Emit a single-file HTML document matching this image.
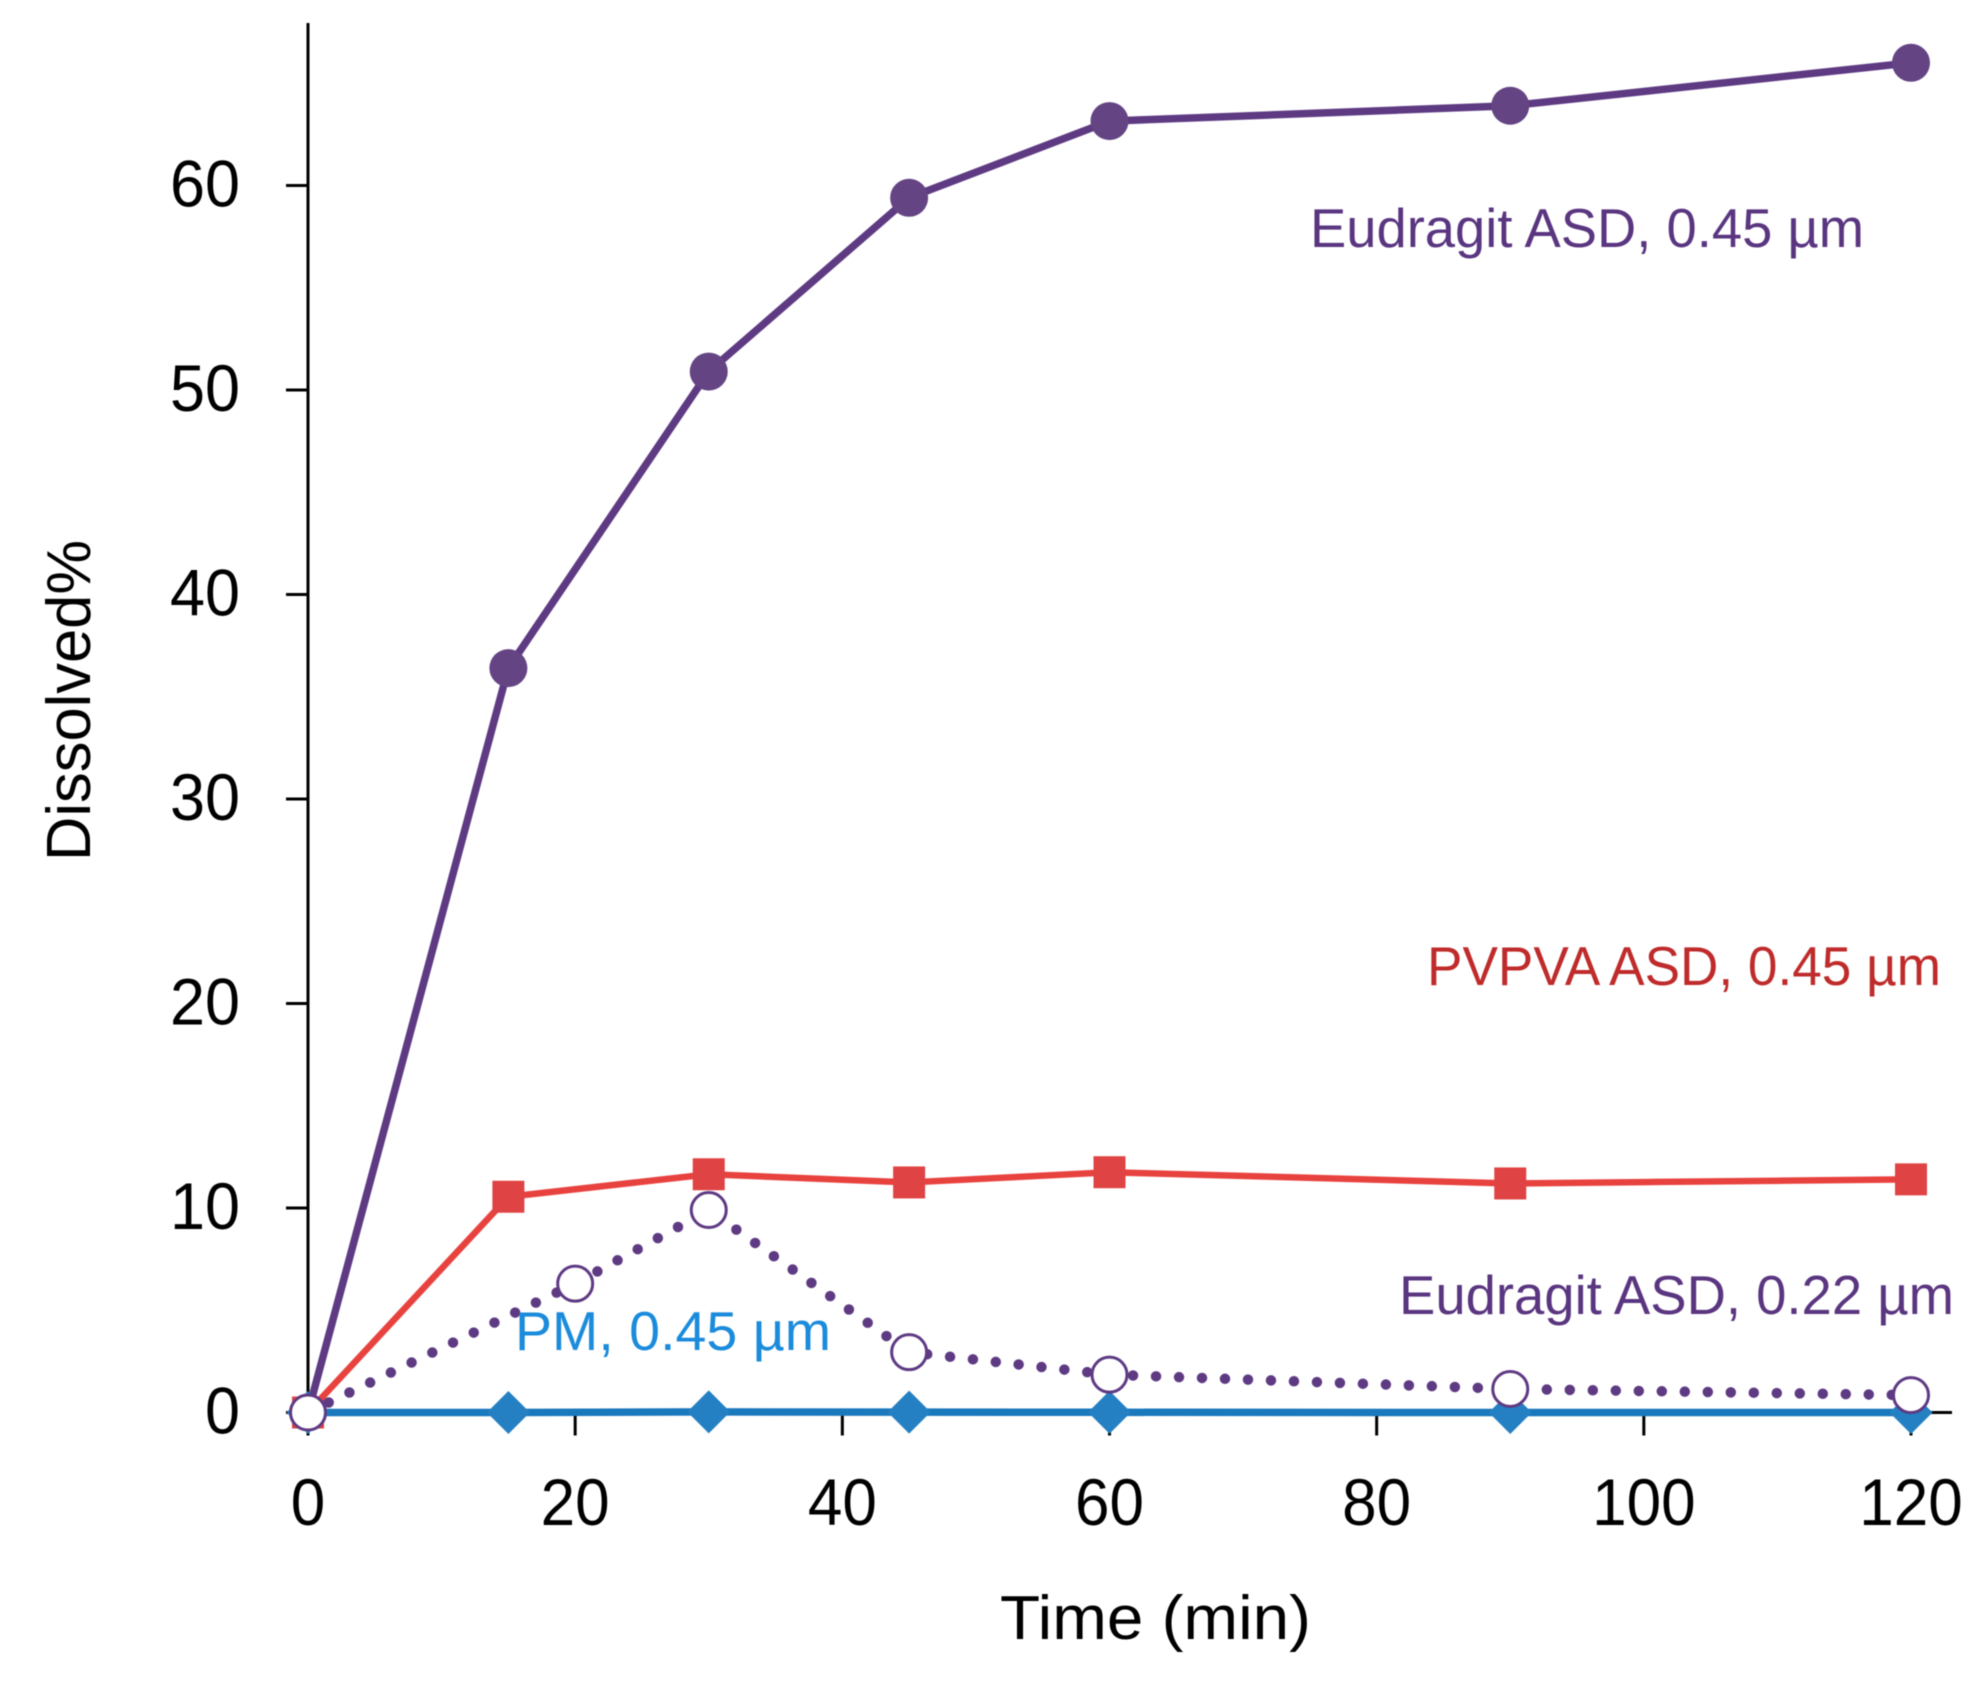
<!DOCTYPE html>
<html lang="en">
<head>
<meta charset="utf-8">
<title>Dissolved% over time</title>
<style>
html,body{margin:0;padding:0;background:#fff;}
#chart{display:block;width:1980px;height:1697px;filter:blur(0.6px);}
text{font-family:"Liberation Sans",sans-serif;}
</style>
</head>
<body>
<svg id="chart" xmlns="http://www.w3.org/2000/svg" width="1980" height="1697" viewBox="0 0 1980 1697">
  <g id="axes"></g>
  <g id="series"></g>
  <g id="labels">
    <text x="1310" y="247" font-size="55" fill="#5a3580" textLength="554" lengthAdjust="spacingAndGlyphs">Eudragit ASD, 0.45 µm</text>
    <text x="1427" y="985" font-size="55" fill="#bf2b2b" textLength="514" lengthAdjust="spacingAndGlyphs">PVPVA ASD, 0.45 µm</text>
    <text x="1399" y="1314" font-size="55" fill="#5a3580" textLength="555" lengthAdjust="spacingAndGlyphs">Eudragit ASD, 0.22 µm</text>
    <text x="515" y="1350" font-size="55" fill="#1b8bdb" textLength="316" lengthAdjust="spacingAndGlyphs">PM, 0.45 µm</text>
    <text x="1000" y="1639" font-size="62" fill="#000" textLength="311" lengthAdjust="spacingAndGlyphs">Time (min)</text>
    <text transform="translate(90 861) rotate(-90)" font-size="62" fill="#000" textLength="321" lengthAdjust="spacingAndGlyphs">Dissolved%</text>
  </g>
</svg>
<script>
const xTicks = [0, 20, 40, 60, 80, 100, 120];
const yTicks = [0, 10, 20, 30, 40, 50, 60];
const times = [0, 15, 30, 45, 60, 90, 120];
const eudragit045 = [0, 36.4, 50.9, 59.4, 63.15, 63.9, 66.0];
const pvpva045 = [0, 10.55, 11.65, 11.25, 11.75, 11.2, 11.4];
const pm045 = [0, 0.0, 0.03, 0.02, 0.01, 0.0, 0.0];
const eudragit022Times = [0, 20, 30, 45, 60, 90, 120];
const eudragit022 = [0, 6.3, 9.9, 2.95, 1.85, 1.15, 0.85];

const NS = 'http://www.w3.org/2000/svg';
function xScale(v) { return 308 + v * (1911 - 308) / 120; }
function yScale(v) { return 1412.5 - v * 20.45; }
function make(tag, attrs, parent) {
  const el = document.createElementNS(NS, tag);
  for (const k in attrs) el.setAttribute(k, attrs[k]);
  parent.appendChild(el);
  return el;
}
const axes = document.getElementById('axes');
const series = document.getElementById('series');

const yAxis = make('line', {x1: xScale(0), x2: xScale(0), y1: 23, y2: yScale(0), stroke: '#000', 'stroke-width': 3}, axes);


const xAxis = make('line', {x1: xScale(0), x2: 1952, y1: yScale(0), y2: yScale(0), stroke: '#000', 'stroke-width': 3}, axes);



xTicks.forEach(function (t) {
  const tick = make('line', {x1: xScale(t), x2: xScale(t), y1: yScale(0), y2: yScale(0) + 23, stroke: '#000', 'stroke-width': 3}, axes);
  
  
  const s = String(t);
  const label = make('text', {x: xScale(t), y: 1525, 'font-size': 66, 'text-anchor': 'middle', fill: '#000', textLength: 34.5 * s.length, lengthAdjust: 'spacingAndGlyphs'}, axes);
  label.textContent = s;
  
  
});
yTicks.forEach(function (t) {
  const tick = make('line', {x1: xScale(0) - 22, x2: xScale(0), y1: yScale(t), y2: yScale(t), stroke: '#000', 'stroke-width': 3}, axes);
  
  
  const s = String(t);
  const label = make('text', {x: 240, y: yScale(t) + 21, 'font-size': 66, 'text-anchor': 'end', fill: '#000', textLength: 35 * s.length, lengthAdjust: 'spacingAndGlyphs'}, axes);
  label.textContent = s;
  
  
});

function pointsOf(xs, ys) {
  return xs.map(function (x, i) { return xScale(x) + ',' + yScale(ys[i]); }).join(' ');
}

/* purple solid series */
const purpleLine = make('polyline', {points: pointsOf(times, eudragit045), fill: 'none', stroke: '#5e3a83', 'stroke-width': 7.5, 'stroke-linejoin': 'round'}, series);


times.forEach(function (x, i) {
  const m = make('circle', {cx: xScale(x), cy: yScale(eudragit045[i]), r: 19, fill: '#644483'}, series);
  
  
});

/* red series */
const redLine = make('polyline', {points: pointsOf(times, pvpva045), fill: 'none', stroke: '#e8423f', 'stroke-width': 6.5, 'stroke-linejoin': 'round'}, series);


times.forEach(function (x, i) {
  const m = make('rect', {x: xScale(x) - 16, y: yScale(pvpva045[i]) - 16, width: 32, height: 32, fill: '#e04343'}, series);
  
  
});

/* blue series */
const blueLine = make('polyline', {points: pointsOf(times, pm045), fill: 'none', stroke: '#1a78bd', 'stroke-width': 7.5, 'stroke-linejoin': 'round'}, series);


times.forEach(function (x, i) {
  const cx = xScale(x);
  const cy = yScale(pm045[i]);
  const pts = [cx, cy - 21.5, cx + 21.5, cy, cx, cy + 21.5, cx - 21.5, cy].join(' ');
  const m = make('polygon', {points: pts, fill: '#2480c2'}, series);
  
  
});

/* dotted series */
const dotLine = make('polyline', {points: pointsOf(eudragit022Times, eudragit022), fill: 'none', stroke: '#5e3a83', 'stroke-width': 10.5, 'stroke-linecap': 'round', 'stroke-dasharray': '0 23'}, series);


eudragit022Times.forEach(function (x, i) {
  const m = make('circle', {cx: xScale(x), cy: yScale(eudragit022[i]), r: 17.5, fill: '#fff', stroke: '#5e3a83', 'stroke-width': 3}, series);
  
  
});
</script>
</body>
</html>
